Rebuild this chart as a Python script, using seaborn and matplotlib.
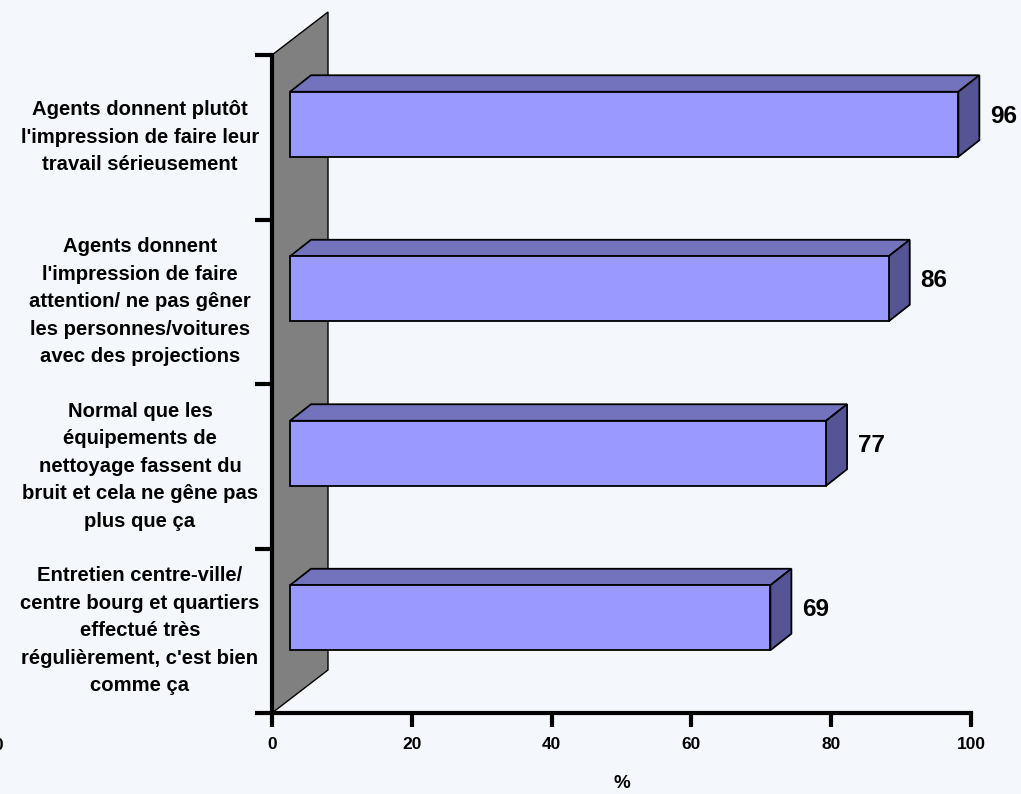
import matplotlib
matplotlib.use("Agg")
import matplotlib.pyplot as plt
import matplotlib.transforms as mtransforms
from matplotlib.patches import Polygon
import seaborn as sns
import pandas as pd

# Survey results (% of respondents)
categories = [
    "Agents donnent plutôt\nl'impression de faire leur\ntravail sérieusement",
    "Agents donnent\nl'impression de faire\nattention/ ne pas gêner\nles personnes/voitures\navec des projections",
    "Normal que les\néquipements de\nnettoyage fassent du\nbruit et cela ne gêne pas\nplus que ça",
    "Entretien centre-ville/\ncentre bourg et quartiers\neffectué très\nrégulièrement, c'est bien\ncomme ça",
]
values = [96, 86, 77, 69]
x_ticks = [0, 20, 40, 60, 80, 100]

BG = "#F4F8FC"
FRONT = "#9999FF"
TOP = "#7373BD"
SIDE = "#555596"
WALL = "#808080"

sns.set_theme(style="white")
plt.rcParams["font.family"] = ["Liberation Sans", "DejaVu Sans"]
plt.rcParams["font.weight"] = "bold"
for key in ["text.color", "axes.labelcolor", "xtick.color", "ytick.color",
            "xtick.labelcolor", "ytick.labelcolor"]:
    plt.rcParams[key] = "black"

fig = plt.figure(figsize=(10.21, 7.94), dpi=100, facecolor=BG)
W, H = 1021, 794
ax = fig.add_axes([272 / W, (H - 713) / H, 699 / W, 658 / H])
ax.set_facecolor("none")

df = pd.DataFrame({"cat": categories, "val": values})
sns.barplot(data=df, y="cat", x="val", orient="h", color=FRONT, saturation=1,
            width=0.395, edgecolor="black", linewidth=1.3, ax=ax, zorder=3)
ax.set_xlim(0, 100)
ax.set_ylim(3.5, -0.5)

# pixel scale of the data axes
sx = ax.bbox.width / 100.0
sy = ax.bbox.height / 4.0

def shift(x, y, ox, oy):
    """Move a data point by a screen offset given in pixels."""
    return (x + ox / sx, y - oy / sy)

FX, FY = 18, 13      # front plane of the bars
DX, DY = 21, 16.5    # bar depth
WX, WY = 56, 43      # wall depth

# side wall
wall = Polygon([shift(0, 3.5, 0, 0), shift(0, -0.5, 0, 0),
                shift(0, -0.5, WX, WY), shift(0, 3.5, WX, WY)],
               closed=True, facecolor=WALL, edgecolor="black", linewidth=1,
               clip_on=False, zorder=0.5)
ax.add_patch(wall)

# the front plane is drawn at a slightly tighter scale than the axis
front_scale = 0.996
offset = mtransforms.ScaledTranslation(FX / 100, FY / 100, fig.dpi_scale_trans)
for bar in list(ax.patches):
    if bar is wall:
        continue
    x0, y0 = bar.get_x(), bar.get_y()
    w, h = bar.get_width(), bar.get_height()
    w2 = w * front_scale
    bar.set_width(w2)
    ytop, ybot = min(y0, y0 + h), max(y0, y0 + h)
    bar.set_transform(ax.transData + offset)
    bar.set_clip_on(False)
    # top face
    top = Polygon([shift(x0, ytop, FX, FY), shift(x0 + w2, ytop, FX, FY),
                   shift(x0 + w2, ytop, FX + DX, FY + DY), shift(x0, ytop, FX + DX, FY + DY)],
                  closed=True, facecolor=TOP, edgecolor="black", linewidth=1.3,
                  clip_on=False, zorder=2.8)
    # right side face
    side = Polygon([shift(x0 + w2, ytop, FX, FY), shift(x0 + w2, ybot, FX, FY),
                    shift(x0 + w2, ybot, FX + DX, FY + DY), shift(x0 + w2, ytop, FX + DX, FY + DY)],
                   closed=True, facecolor=SIDE, edgecolor="black", linewidth=1.3,
                   clip_on=False, zorder=2.8)
    ax.add_patch(top)
    ax.add_patch(side)

# value labels beside each bar
for i, v in enumerate(values):
    ax.annotate(f"{v}", xy=(v * front_scale, i),
                xytext=((FX + DX + 24) * 0.72, (FY + 8) * 0.72),
                textcoords="offset points", ha="center", va="center",
                fontsize=17.5, fontweight="bold", color="black", annotation_clip=False)

# axes styling
for s in ["top", "right"]:
    ax.spines[s].set_visible(False)
for s in ["left", "bottom"]:
    ax.spines[s].set_linewidth(3)
    ax.spines[s].set_color("black")
    ax.spines[s].set_zorder(4)

ax.set_xticks(x_ticks)
ax.set_xticklabels([str(t) for t in x_ticks], fontsize=12.5, fontweight="bold",
                   color="black")
ax.tick_params(axis="x", which="major", direction="out", length=10, width=3,
               color="black", pad=7, bottom=True)

ax.set_yticks(range(len(categories)))
ax.set_yticklabels(categories, fontsize=14.6, fontweight="bold", ha="center",
                   va="center", multialignment="center", linespacing=1.56,
                   color="black")
ax.set_yticks([-0.5, 0.5, 1.5, 2.5, 3.5], minor=True)
ax.tick_params(axis="y", which="major", length=0, pad=95)
ax.tick_params(axis="y", which="minor", direction="out", length=12, width=3,
               color="black", left=True)

ax.set_ylabel("")
ax.set_xlabel("%", fontsize=13.5, fontweight="bold", labelpad=17, color="black")

# stray axis label at the far left edge
fig.text(-2 / W, 1 - 745 / H, "0", ha="center", va="center", fontsize=12.5,
         fontweight="bold", color="black")

fig.savefig("out.png", dpi=100, facecolor=BG)
